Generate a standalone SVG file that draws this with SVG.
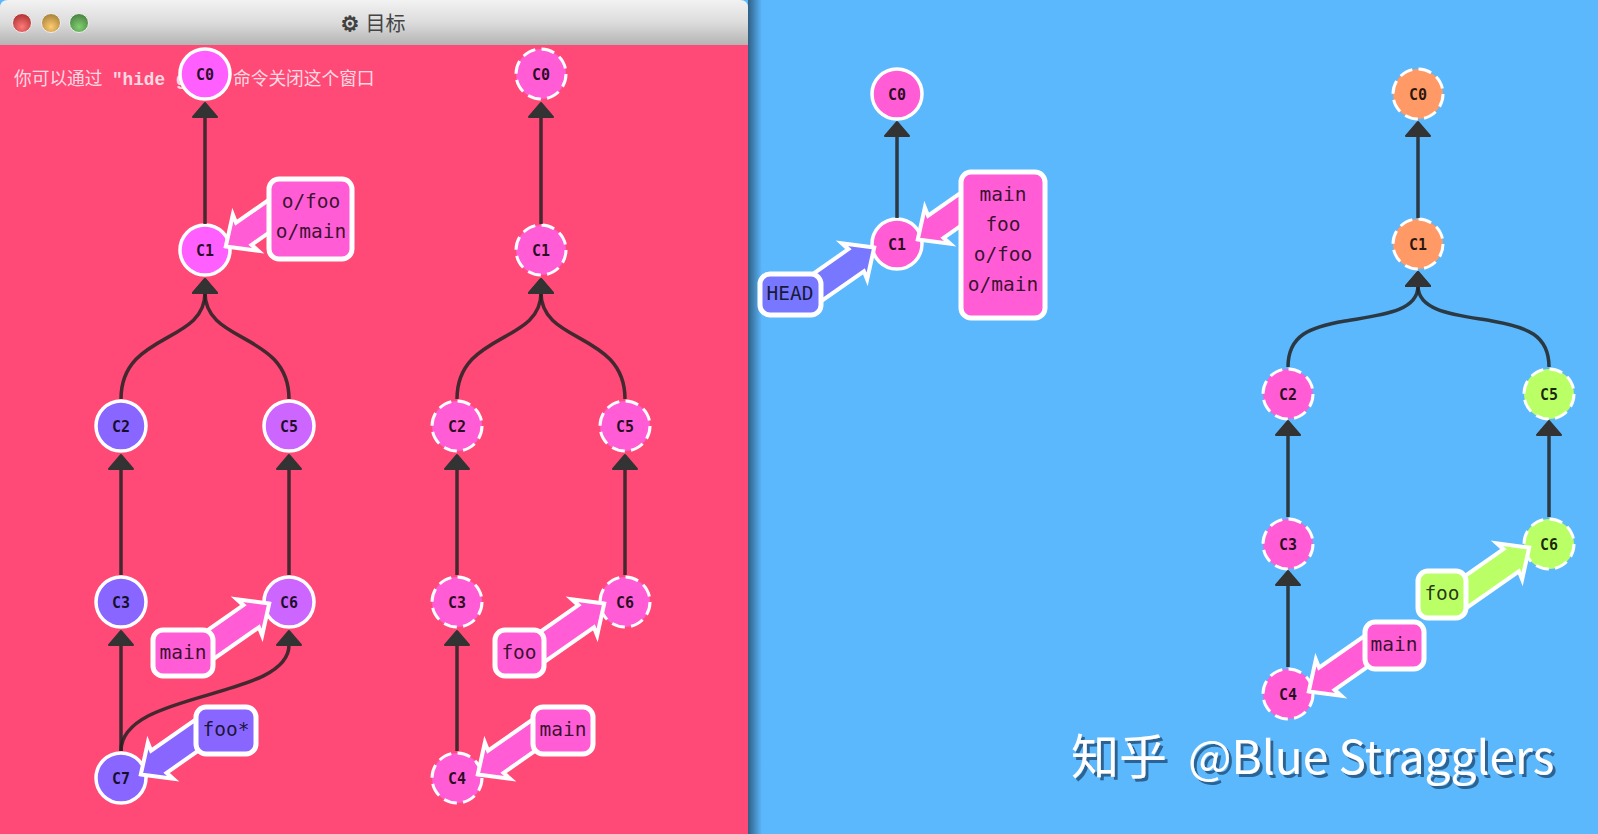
<svg xmlns="http://www.w3.org/2000/svg" width="1598" height="834" viewBox="0 0 1598 834">
<style>
.c{stroke:#fff;stroke-width:3.5}
.d{stroke-width:3;stroke-dasharray:13.2 6.4}
.n{font:bold 15px "DejaVu Sans Mono","Liberation Mono",monospace;fill:#000;fill-opacity:.85;text-anchor:middle}
.b{stroke:#fff;stroke-width:5}
.l{font:19.5px "DejaVu Sans Mono","Liberation Mono",monospace;fill:#000;fill-opacity:.8;text-anchor:middle}
.e{fill:none;stroke:#222;stroke-opacity:.85;stroke-width:3.5;marker-end:url(#tri)}
.a{stroke:#fff;stroke-width:4;stroke-linejoin:miter;stroke-miterlimit:8}
.mag{fill:#ff5fff}.pk{fill:#ff5cd6}.vi{fill:#8866ff}.pu{fill:#cc66ff}.or{fill:#ff9966}.gr{fill:#bbff66}.he{fill:#7777ff}
</style>
<defs>
<linearGradient id="bar" x1="0" y1="0" x2="0" y2="1"><stop offset="0" stop-color="#f2f2f2"/><stop offset=".5" stop-color="#dcdcdc"/><stop offset="1" stop-color="#b4b4b4"/></linearGradient>
<linearGradient id="sh" x1="0" y1="0" x2="1" y2="0"><stop offset="0" stop-color="#2f5f86"/><stop offset="1" stop-color="#5cb8fc"/></linearGradient>
<radialGradient id="r" cx=".5" cy=".7" r=".6"><stop offset="0" stop-color="#ff7a7a"/><stop offset="1" stop-color="#b83a3a"/></radialGradient>
<radialGradient id="y" cx=".5" cy=".7" r=".6"><stop offset="0" stop-color="#ffcc70"/><stop offset="1" stop-color="#b08a40"/></radialGradient>
<radialGradient id="g" cx=".5" cy=".7" r=".6"><stop offset="0" stop-color="#80d070"/><stop offset="1" stop-color="#4f8a48"/></radialGradient>
<marker id="tri" markerUnits="userSpaceOnUse" viewBox="-2 -15 20 30" markerWidth="20" markerHeight="30" refX="0" refY="0" orient="auto"><polygon points="0,-12 14,0 0,12" fill="#333" stroke="#333" stroke-width="2" stroke-linejoin="round"/></marker>
<polygon id="arr" class="a" points="-1,0 -25,-22 -23,-13.5 -90,-13.5 -90,13.5 -23,13.5 -25,22"/>
<filter id="ws" x="-5%" y="-20%" width="110%" height="140%"><feDropShadow dx="3" dy="3" stdDeviation=".5" flood-color="#2a6494"/></filter>
</defs>

<rect id="desk" width="1598" height="834" fill="#5cb8fc"/>
<rect id="shadow" x="748" y="0" width="14" height="834" fill="url(#sh)"/>
<path id="window" d="M0 45H748V834H0Z" fill="#ff4a78"/>
<g id="titlebar">
<path d="M0 8Q0 0 8 0H740Q748 0 748 8V45H0Z" fill="url(#bar)"/>
<circle cx="22" cy="23" r="9.5" fill="url(#r)" stroke="#eee" stroke-width="1"/>
<circle cx="51" cy="23" r="9.5" fill="url(#y)" stroke="#eee" stroke-width="1"/>
<circle cx="79" cy="23" r="9.5" fill="url(#g)" stroke="#eee" stroke-width="1"/>
<text x="373" y="31" text-anchor="middle" font-family="'DejaVu Sans','Noto Sans CJK SC',sans-serif" font-size="20" fill="#444"><tspan font-size="21" stroke="#333" stroke-width=".7">⚙</tspan> 目标</text>
</g>
<text id="hint" x="14" y="85" font-family="'Liberation Mono','Noto Sans CJK SC',monospace" font-size="17.7" fill="#fff" fill-opacity=".8"><tspan font-family="'Noto Sans CJK SC',sans-serif">你可以通过</tspan><tspan x="112" font-weight="bold">"hide goal"</tspan><tspan x="233" font-family="'Noto Sans CJK SC',sans-serif">命令关闭这个窗口</tspan></text>

<g id="g1-C0"><circle class="c mag" cx="205" cy="74" r="25"/><text class="n" x="205" y="80">C0</text></g>
<g id="g1-C1"><circle class="c mag" cx="205" cy="250" r="25"/><text class="n" x="205" y="256">C1</text></g>
<g id="g1-C2"><circle class="c vi" cx="121" cy="426" r="25"/><text class="n" x="121" y="432">C2</text></g>
<g id="g1-C5"><circle class="c pu" cx="289" cy="426" r="25"/><text class="n" x="289" y="432">C5</text></g>
<g id="g1-C3"><circle class="c vi" cx="121" cy="602" r="25"/><text class="n" x="121" y="608">C3</text></g>
<g id="g1-C6"><circle class="c pu" cx="289" cy="602" r="25"/><text class="n" x="289" y="608">C6</text></g>
<g id="g1-C7"><circle class="c vi" cx="121" cy="778" r="25"/><text class="n" x="121" y="784">C7</text></g>

<g id="g2-C0"><circle class="c d pk" cx="541" cy="74" r="25"/><text class="n" x="541" y="80">C0</text></g>
<g id="g2-C1"><circle class="c d pk" cx="541" cy="250" r="25"/><text class="n" x="541" y="256">C1</text></g>
<g id="g2-C2"><circle class="c d pk" cx="457" cy="426" r="25"/><text class="n" x="457" y="432">C2</text></g>
<g id="g2-C5"><circle class="c d pk" cx="625" cy="426" r="25"/><text class="n" x="625" y="432">C5</text></g>
<g id="g2-C3"><circle class="c d pk" cx="457" cy="602" r="25"/><text class="n" x="457" y="608">C3</text></g>
<g id="g2-C6"><circle class="c d pk" cx="625" cy="602" r="25"/><text class="n" x="625" y="608">C6</text></g>
<g id="g2-C4"><circle class="c d pk" cx="457" cy="778" r="25"/><text class="n" x="457" y="784">C4</text></g>

<g id="r1-C0"><circle class="c pk" cx="897" cy="94" r="25"/><text class="n" x="897" y="100">C0</text></g>
<g id="r1-C1"><circle class="c pk" cx="897" cy="244" r="25"/><text class="n" x="897" y="250">C1</text></g>

<g id="r2-C0"><circle class="c d or" cx="1418" cy="94" r="25"/><text class="n" x="1418" y="100">C0</text></g>
<g id="r2-C1"><circle class="c d or" cx="1418" cy="244" r="25"/><text class="n" x="1418" y="250">C1</text></g>
<g id="r2-C2"><circle class="c d pk" cx="1288" cy="394" r="25"/><text class="n" x="1288" y="400">C2</text></g>
<g id="r2-C5"><circle class="c d gr" cx="1549" cy="394" r="25"/><text class="n" x="1549" y="400">C5</text></g>
<g id="r2-C3"><circle class="c d pk" cx="1288" cy="544" r="25"/><text class="n" x="1288" y="550">C3</text></g>
<g id="r2-C6"><circle class="c d gr" cx="1549" cy="544" r="25"/><text class="n" x="1549" y="550">C6</text></g>
<g id="r2-C4"><circle class="c d pk" cx="1288" cy="694" r="25"/><text class="n" x="1288" y="700">C4</text></g>

<g id="connectors">
<path class="e" d="M205 224V117"/>
<path class="e" d="M121 399C121 332 205 344 205 293"/>
<path class="e" d="M289 399C289 332 205 344 205 293"/>
<path class="e" d="M121 575V469"/>
<path class="e" d="M289 575V469"/>
<path class="e" d="M121 751V645"/>
<path class="e" d="M121 751C121 690 289 700 289 645"/>
<path class="e" d="M541 224V117"/>
<path class="e" d="M457 399C457 332 541 344 541 293"/>
<path class="e" d="M625 399C625 332 541 344 541 293"/>
<path class="e" d="M457 575V469"/>
<path class="e" d="M625 575V469"/>
<path class="e" d="M457 751V645"/>
<path class="e" d="M897 218V136"/>
<path class="e" d="M1418 218V136"/>
<path class="e" d="M1288 367C1288 335 1310 327 1345 321C1380 315 1418 312 1418 286"/>
<path class="e" d="M1549 367C1549 335 1527 327 1492 321C1457 315 1418 312 1418 286"/>
<path class="e" d="M1288 517V435"/>
<path class="e" d="M1549 517V435"/>
<path class="e" d="M1288 667V585"/>
<use href="#arr" class="pk" transform="translate(225 247) rotate(145)"/>
<use href="#arr" class="pk" transform="translate(270 603) rotate(-35)"/>
<use href="#arr" class="vi" transform="translate(140 775) rotate(145)"/>
<use href="#arr" class="pk" transform="translate(605 603) rotate(-35)"/>
<use href="#arr" class="pk" transform="translate(477 775) rotate(145)"/>
<use href="#arr" class="he" transform="translate(875 247) rotate(-35)"/>
<use href="#arr" class="pk" transform="translate(917 240) rotate(145)"/>
<use href="#arr" class="gr" transform="translate(1530 547) rotate(-35)"/>
<use href="#arr" class="pk" transform="translate(1308 692) rotate(145)"/>
</g>

<g id="g1-ofoo-omain"><rect class="b pk" x="269" y="179" width="83" height="80" rx="10"/><text class="l" x="311" y="208">o/foo</text><text class="l" x="311" y="238">o/main</text></g>
<g id="g1-main"><rect class="b pk" x="153" y="630" width="60" height="46" rx="10"/><text class="l" x="183" y="659">main</text></g>
<g id="g1-foo"><rect class="b vi" x="196" y="707" width="60" height="47" rx="10"/><text class="l" x="226" y="736">foo*</text></g>
<g id="g2-foo"><rect class="b pk" x="495" y="630" width="49" height="46" rx="10"/><text class="l" x="519" y="659">foo</text></g>
<g id="g2-main"><rect class="b pk" x="533" y="707" width="60" height="47" rx="10"/><text class="l" x="563" y="736">main</text></g>
<g id="r1-HEAD"><rect class="b he" x="760" y="274" width="61" height="41" rx="10"/><text class="l" x="790" y="300">HEAD</text></g>
<g id="r1-stack"><rect class="b pk" x="961" y="172" width="84" height="146" rx="10"/><text class="l" x="1003" y="201">main</text><text class="l" x="1003" y="231">foo</text><text class="l" x="1003" y="261">o/foo</text><text class="l" x="1003" y="291">o/main</text></g>
<g id="r2-foo"><rect class="b gr" x="1418" y="571" width="48" height="47" rx="10"/><text class="l" x="1442" y="600">foo</text></g>
<g id="r2-main"><rect class="b pk" x="1365" y="622" width="59" height="47" rx="10"/><text class="l" x="1394" y="651">main</text></g>

<text id="watermark" y="774" font-family="'Noto Sans CJK SC',sans-serif" font-size="46" fill="#fff" filter="url(#ws)"><tspan x="1071" font-size="48">知乎</tspan><tspan x="1188">@Blue Stragglers</tspan></text>
</svg>
